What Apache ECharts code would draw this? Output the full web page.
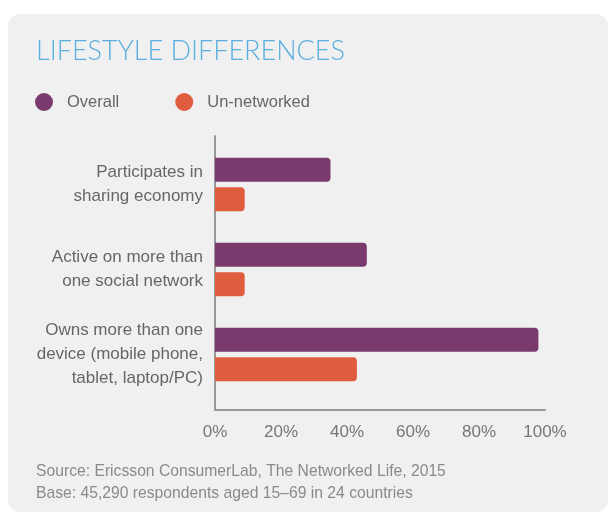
<!DOCTYPE html>
<html>
<head>
<meta charset="utf-8">
<script src="https://cdn.jsdelivr.net/npm/echarts@6/dist/echarts.min.js"></script>
<style>
html,body{margin:0;padding:0;background:#fff;}
#c{width:610px;height:515px;}
</style>
</head>
<body>
<div id="c"></div>
<script>
var categories = ['Participates in\nsharing economy', 'Active on more than\none social network', 'Owns more than one\ndevice (mobile phone,\ntablet, laptop/PC)'];
var seriesNames = ['Overall', 'Un-networked'];
var overall = [35, 46, 98];
var unnetworked = [9, 9, 43];
var xTicks = [0, 20, 40, 60, 80, 100];

var colors = ['#7a3a6e', '#e05c3e'];
var font = '"Liberation Sans", Arial, Helvetica, sans-serif';

var chart = echarts.init(document.getElementById('c'), null, {renderer: 'canvas'});
chart.setOption({
  backgroundColor: '#ffffff',
  animation: false,
  graphic: [{
    type: 'rect', z: -10, silent: true,
    shape: {x: 8, y: 14, width: 600, height: 498, r: 12},
    style: {fill: '#f0f0f0'}
  }],
  title: [{
    text: 'LIFESTYLE DIFFERENCES',
    left: 31, top: 33,
    textStyle: {fontFamily: 'Lato, sans-serif', fontWeight: 300, fontSize: 27, color: '#5aafe0'}
  }, {
    text: 'Source: Ericsson ConsumerLab, The Networked Life, 2015\nBase: 45,290 respondents aged 15\u201369 in 24 countries',
    left: 31, top: 456,
    textStyle: {fontFamily: font, fontWeight: 'normal', fontSize: 15.7, color: '#8a8a8a', lineHeight: 22}
  }],
  legend: {
    data: seriesNames,
    left: 30, top: 88,
    icon: 'circle', itemWidth: 18, itemHeight: 18, itemGap: 56,
    textStyle: {fontFamily: font, fontSize: 16.5, color: '#666', padding: [0, 0, 0, 9]}
  },
  grid: [
    {left: 215, right: 65, top: 142, height: 255},
    {left: 215, right: 65, top: 136, height: 274}
  ],
  xAxis: [{
    gridIndex: 0, type: 'value', min: 0, max: 100, interval: 20,
    show: false
  }, {
    gridIndex: 1, type: 'value', min: 0, max: 100, interval: 20,
    data: xTicks,
    axisLine: {show: true, lineStyle: {color: '#999', width: 2}},
    axisTick: {show: false}, splitLine: {show: false},
    axisLabel: {formatter: '{value}%', margin: 14, fontFamily: font, fontSize: 17, color: '#777'}
  }],
  yAxis: [{
    gridIndex: 0, type: 'category', data: categories, inverse: true,
    axisLine: {show: false}, axisTick: {show: false}, splitLine: {show: false},
    axisLabel: {margin: 12, fontFamily: font, fontSize: 17, color: '#666', lineHeight: 24, align: 'right'}
  }, {
    gridIndex: 1, type: 'category', data: categories, inverse: true,
    axisLine: {show: true, lineStyle: {color: '#999', width: 2}},
    axisTick: {show: false}, axisLabel: {show: false}, splitLine: {show: false}
  }],
  series: [{
    name: seriesNames[0], type: 'bar', xAxisIndex: 0, yAxisIndex: 0,
    data: overall, barWidth: 24, barGap: '22%',
    itemStyle: {color: colors[0], borderRadius: [0, 4, 4, 0]}
  }, {
    name: seriesNames[1], type: 'bar', xAxisIndex: 0, yAxisIndex: 0,
    data: unnetworked, barWidth: 24, barGap: '22%',
    itemStyle: {color: colors[1], borderRadius: [0, 4, 4, 0]}
  }]
});
</script>
</body>
</html>
